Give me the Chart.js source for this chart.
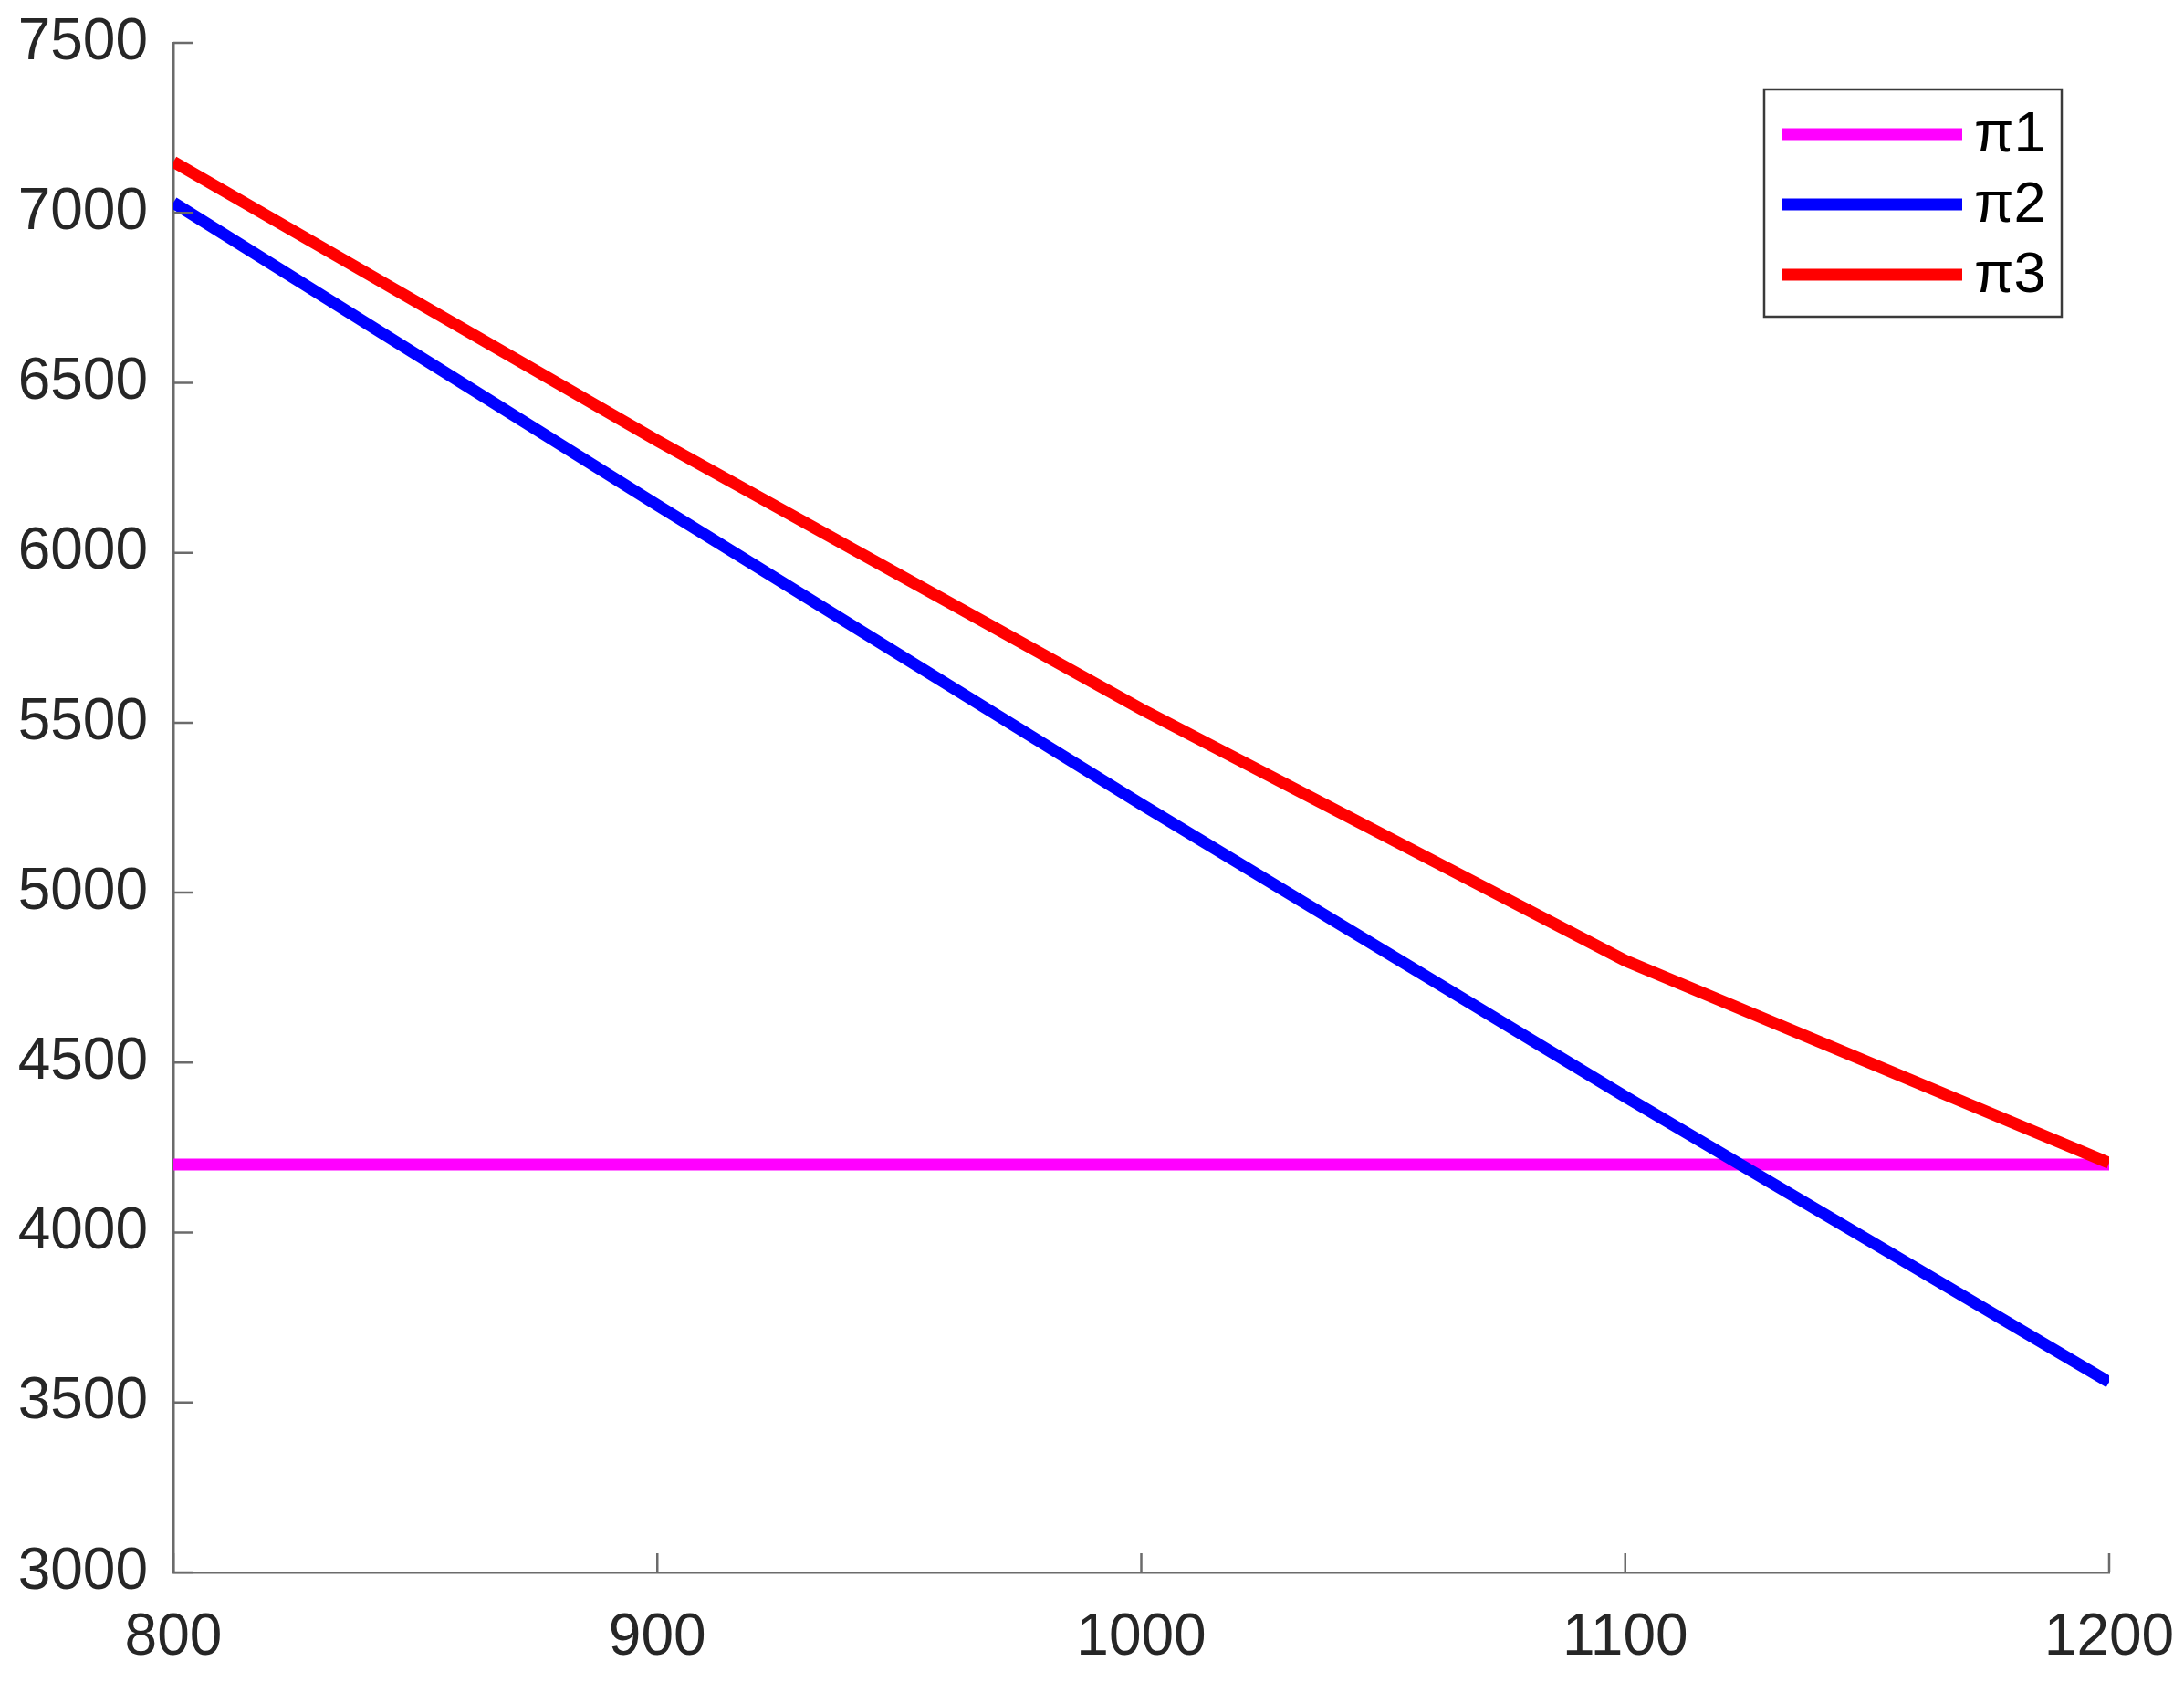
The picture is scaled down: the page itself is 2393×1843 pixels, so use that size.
<!DOCTYPE html>
<html>
<head>
<meta charset="utf-8">
<script src="https://cdn.jsdelivr.net/npm/chart.js@4.4.0/dist/chart.umd.min.js"></script>
<style>
  html, body { margin: 0; padding: 0; background: #fff; }
  #wrap { width: 2393px; height: 1843px; }
</style>
</head>
<body>
<div id="wrap"><canvas id="chart" width="2393" height="1843"></canvas></div>
<script>
// values
const xValues = [800, 900, 1000, 1100, 1200];
const pi1 = [4200, 4200, 4200, 4200, 4200];
const pi2 = [7030, 6140, 5260, 4400, 3560];
const pi3 = [7150, 6330, 5540, 4800, 4205];
const seriesLabels = ['π1', 'π2', 'π3'];
const seriesColors = ['#ff00ff', '#0000ff', '#ff0000'];
const xTicks = [800, 900, 1000, 1100, 1200];
const yTicks = [3000, 3500, 4000, 4500, 5000, 5500, 6000, 6500, 7000, 7500];

const FONT = '"Liberation Sans", Arial, sans-serif';
const AXIS_COLOR = '#6b6b6b';

const toPoints = (ys) => xValues.map((x, i) => ({ x: x, y: ys[i] }));

// ticks pointing into the plot area, like the original
const innerTicks = {
  id: 'innerTicks',
  afterDatasetsDraw(chart) {
    const { ctx, chartArea, scales } = chart;
    ctx.save();
    ctx.strokeStyle = AXIS_COLOR;
    ctx.lineWidth = 2.5;
    ctx.beginPath();
    yTicks.forEach(v => {
      const y = scales.y.getPixelForValue(v);
      ctx.moveTo(chartArea.left, y);
      ctx.lineTo(chartArea.left + 21, y);
    });
    xTicks.forEach(v => {
      const x = scales.x.getPixelForValue(v);
      ctx.moveTo(x, chartArea.bottom);
      ctx.lineTo(x, chartArea.bottom - 21);
    });
    ctx.stroke();
    ctx.restore();
  }
};

// boxed legend in the top-right corner
const boxLegend = {
  id: 'boxLegend',
  afterDraw(chart) {
    const ctx = chart.ctx;
    const left = 1933, top = 98, w = 326, h = 249;
    ctx.save();
    ctx.fillStyle = '#fff';
    ctx.fillRect(left, top, w, h);
    ctx.strokeStyle = '#3a3a3a';
    ctx.lineWidth = 2.5;
    ctx.strokeRect(left, top, w, h);
    chart.data.datasets.forEach((ds, i) => {
      const y = top + 49 + i * 77;
      ctx.strokeStyle = ds.borderColor;
      ctx.lineWidth = 13;
      ctx.beginPath();
      ctx.moveTo(left + 20, y);
      ctx.lineTo(left + 217, y);
      ctx.stroke();
      ctx.fillStyle = '#000';
      ctx.font = '63px ' + FONT;
      ctx.textBaseline = 'middle';
      ctx.fillText(ds.label, left + 230, y + 2);
    });
    ctx.restore();
  }
};

new Chart(document.getElementById('chart'), {
  type: 'line',
  data: {
    datasets: [pi1, pi2, pi3].map((ys, i) => ({
      label: seriesLabels[i],
      data: toPoints(ys),
      borderColor: seriesColors[i],
      backgroundColor: seriesColors[i],
      borderWidth: 13,
      pointRadius: 0,
      tension: 0,
      fill: false,
      order: 2 - i
    }))
  },
  options: {
    responsive: false,
    animation: false,
    events: [],
    layout: { padding: { top: 47, right: 82, left: 0, bottom: 0 } },
    plugins: {
      legend: { display: false },
      tooltip: { enabled: false }
    },
    scales: {
      x: {
        type: 'linear',
        min: 800,
        max: 1200,
        afterBuildTicks: (s) => { s.ticks = xTicks.map(v => ({ value: v })); },
        afterFit: (s) => { s.height = 120; s.paddingLeft = 0; s.paddingRight = 0; },
        grid: { display: false, drawTicks: false },
        border: { display: true, color: AXIS_COLOR, width: 2.5 },
        ticks: {
          color: '#262626',
          font: { family: FONT, size: 64 },
          padding: 34,
          maxRotation: 0,
          autoSkip: false,
          callback: (v) => String(v)
        }
      },
      y: {
        type: 'linear',
        min: 3000,
        max: 7500,
        afterBuildTicks: (s) => { s.ticks = yTicks.map(v => ({ value: v })); },
        afterFit: (s) => { s.width = 190; s.paddingTop = 0; s.paddingBottom = 0; },
        grid: { display: false, drawTicks: false },
        border: { display: true, color: AXIS_COLOR, width: 2.5 },
        ticks: {
          color: '#262626',
          font: { family: FONT, size: 64 },
          padding: 28,
          autoSkip: false,
          callback: (v) => String(v)
        }
      }
    }
  },
  plugins: [innerTicks, boxLegend]
});
</script>
</body>
</html>
